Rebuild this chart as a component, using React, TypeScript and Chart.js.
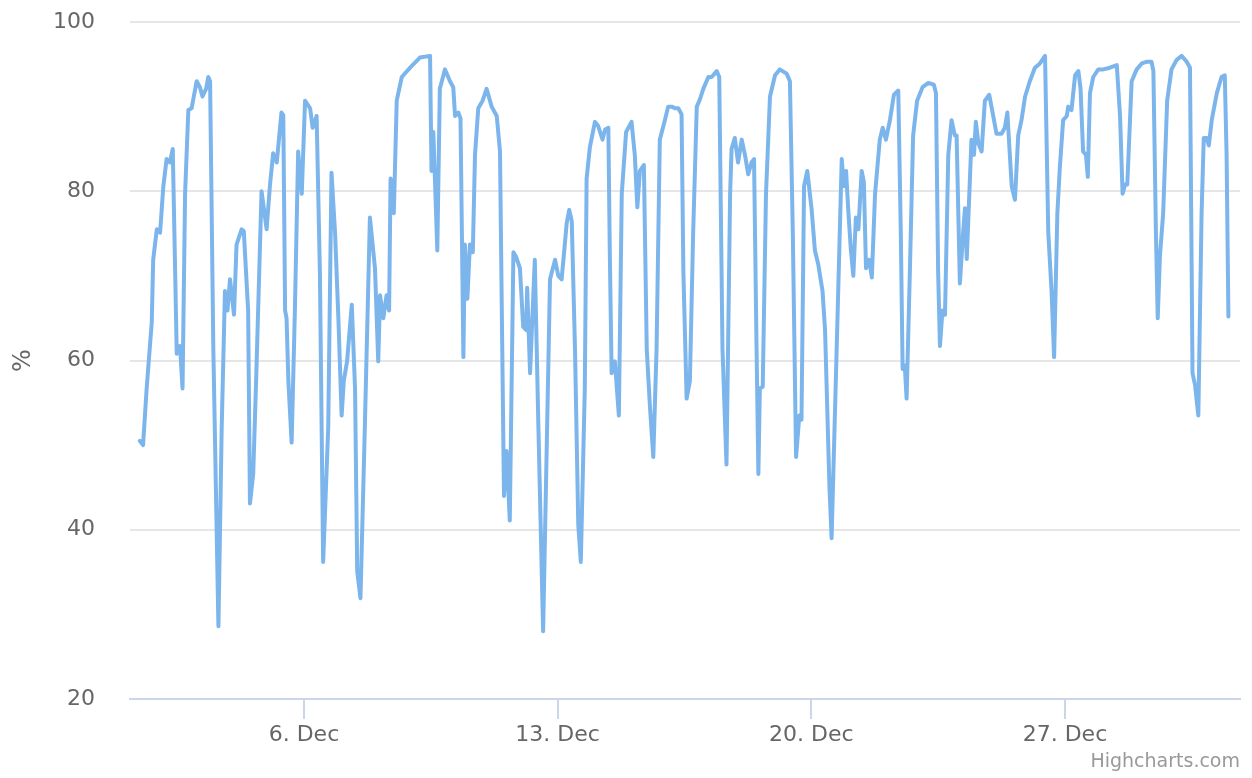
import React, { useEffect, useRef } from "react";
import { Chart, registerables } from "chart.js";

Chart.register(...registerables);

// Time in days of December (fractional), humidity in %
const times = [
  1.47, 1.56, 1.66, 1.80, 1.84, 1.94, 2.03, 2.12, 2.21, 2.30, 2.38, 2.49, 2.58, 2.65, 2.72, 2.81, 2.90, 3.04, 3.13, 3.20,
  3.30, 3.36, 3.41, 3.50, 3.64, 3.73, 3.82, 3.89, 3.96, 4.07, 4.14, 4.28, 4.34, 4.46, 4.51, 4.60, 4.68, 4.83, 4.97, 5.06,
  5.15, 5.25, 5.38, 5.43, 5.48, 5.52, 5.57, 5.66, 5.75, 5.84, 5.94, 6.03, 6.17, 6.24, 6.35, 6.44, 6.53, 6.67, 6.76, 6.86,
  6.95, 7.04, 7.10, 7.19, 7.32, 7.41, 7.47, 7.56, 7.68, 7.82, 7.96, 8.05, 8.10, 8.19, 8.28, 8.35, 8.39, 8.48, 8.56, 8.70,
  8.93, 9.20, 9.48, 9.52, 9.57, 9.61, 9.68, 9.75, 9.89, 10.03, 10.12, 10.17, 10.26, 10.32, 10.40, 10.44, 10.51, 10.58, 10.66, 10.72,
  10.81, 10.93, 11.04, 11.18, 11.32, 11.41, 11.46, 11.52, 11.59, 11.68, 11.78, 11.85, 11.96, 12.05, 12.13, 12.16, 12.24, 12.37, 12.47, 12.60,
  12.79, 12.93, 13.02, 13.11, 13.16, 13.25, 13.32, 13.39, 13.48, 13.57, 13.64, 13.75, 13.80, 13.89, 14.03, 14.12, 14.24, 14.31, 14.40, 14.44,
  14.49, 14.58, 14.69, 14.77, 14.89, 15.04, 15.13, 15.20, 15.27, 15.38, 15.46, 15.55, 15.64, 15.73, 15.82, 15.96, 16.05, 16.15, 16.24, 16.33,
  16.42, 16.47, 16.56, 16.65, 16.74, 16.84, 16.93, 17.02, 17.16, 17.25, 17.39, 17.46, 17.55, 17.66, 17.76, 17.80, 17.89, 17.98, 18.08, 18.17,
  18.26, 18.35, 18.42, 18.49, 18.54, 18.58, 18.66, 18.75, 18.86, 19.00, 19.13, 19.32, 19.41, 19.49, 19.58, 19.67, 19.73, 19.80, 19.89, 20.01,
  20.10, 20.19, 20.31, 20.38, 20.50, 20.56, 20.70, 20.84, 20.90, 20.96, 21.02, 21.09, 21.16, 21.23, 21.30, 21.39, 21.45, 21.51, 21.60, 21.67,
  21.76, 21.89, 21.97, 22.06, 22.17, 22.28, 22.40, 22.47, 22.52, 22.58, 22.63, 22.72, 22.81, 22.92, 23.07, 23.23, 23.38, 23.44, 23.50, 23.55,
  23.62, 23.69, 23.78, 23.87, 23.96, 24.01, 24.10, 24.19, 24.24, 24.29, 24.42, 24.49, 24.54, 24.61, 24.70, 24.79, 24.91, 25.02, 25.11, 25.25,
  25.34, 25.41, 25.53, 25.62, 25.71, 25.80, 25.90, 26.03, 26.17, 26.31, 26.45, 26.54, 26.63, 26.70, 26.79, 26.86, 26.95, 27.05, 27.09, 27.18,
  27.28, 27.37, 27.43, 27.50, 27.58, 27.63, 27.69, 27.78, 27.92, 28.06, 28.24, 28.43, 28.52, 28.59, 28.66, 28.72, 28.84, 28.98, 29.12, 29.25,
  29.39, 29.44, 29.51, 29.56, 29.62, 29.71, 29.82, 29.94, 30.08, 30.22, 30.36, 30.45, 30.52, 30.59, 30.68, 30.77, 30.83, 30.91, 30.97, 31.05,
  31.19, 31.32, 31.41, 31.46, 31.51,
];

const humidity = [
  50.5, 50, 56.7, 64.5, 71.9, 75.5, 75.1, 80.6, 83.8, 83.4, 85, 60.8, 61.7, 56.7, 79.7, 89.6, 89.8, 93, 92.3, 91.2,
  92.1, 93.5, 93, 61.3, 28.6, 52, 68.2, 65.9, 69.6, 65.4, 73.7, 75.5, 75.3, 65.9, 43.1, 46.6, 57.6, 80, 75.5, 80.6,
  84.5, 83.4, 89.3, 89, 65.9, 65, 57.6, 50.3, 65.9, 84.7, 79.7, 90.7, 89.8, 87.5, 88.9, 70.5, 36.2, 52.1, 82.2, 75,
  65, 53.5, 57.6, 59.9, 66.6, 56.7, 35.1, 31.9, 52.1, 76.9, 70.9, 59.9, 67.7, 65, 67.7, 65.9, 81.5, 77.4, 90.7, 93.5,
  94.6, 95.8, 96, 82.4, 87, 82, 73, 92.1, 94.4, 93, 92.3, 88.9, 89.3, 88.6, 60.4, 73.7, 67.3, 73.7, 72.8, 84.3,
  89.8, 90.7, 92.1, 90, 88.9, 84.7, 65.9, 44, 49.3, 41.1, 72.8, 72.3, 70.9, 64, 63.6, 68.6, 58.5, 71.9, 52.1, 28,
  69.6, 71.9, 70, 69.6, 71.9, 76.2, 77.8, 76.5, 61.3, 40.6, 36.2, 56.7, 81.5, 85.2, 88.2, 87.7, 86.1, 87.3, 87.5, 72.8,
  58.5, 59.9, 53.5, 79.7, 87, 88.2, 84.3, 78.1, 82.4, 83.1, 61.3, 54.4, 48.6, 61.3, 86.1, 88.4, 90, 90, 89.8, 89.8,
  89.1, 70.5, 55.5, 57.6, 75.1, 90, 90.9, 92.1, 93.5, 93.5, 94.2, 93.5, 61.3, 47.7, 79.7, 85, 86.3, 83.4, 86.1, 84.3,
  82, 83.4, 83.8, 61.3, 46.6, 56.7, 56.9, 79.7, 91.2, 93.7, 94.4, 93.9, 93, 75.1, 48.6, 53.5, 53, 80.6, 82.4, 77.8,
  73, 71.4, 68.2, 63.6, 45.2, 39, 61.3, 83.8, 80.6, 82.4, 77.8, 73.2, 70, 76.9, 75.5, 82.4, 81.1, 70.9, 71.9, 69.8,
  79.7, 86.1, 87.5, 86.1, 88.4, 91.4, 91.9, 75.1, 59, 59.4, 55.5, 70.5, 86.6, 90.7, 92.3, 92.8, 92.6, 91.6, 70.5, 61.7,
  65.9, 65.4, 84.3, 88.4, 86.6, 86.6, 69.1, 75.1, 78, 72, 86.1, 84.3, 88.2, 85.7, 84.7, 90.7, 91.4, 88.9, 86.8, 86.8,
  87.5, 89.3, 80.6, 79, 86.6, 88.4, 91.2, 93, 94.6, 95.1, 96, 75.1, 68.2, 60.4, 77.4, 82.9, 88.4, 88.9, 90, 89.6,
  93.7, 94.2, 92.1, 84.7, 84.3, 81.7, 91.6, 93.5, 94.4, 94.4, 94.6, 94.9, 88.9, 79.7, 80.8, 80.8, 93, 94.4, 95.1, 95.3,
  95.3, 94.2, 75.1, 65, 72.3, 77.4, 90.7, 94.4, 95.5, 96, 95.3, 94.6, 58.5, 57.1, 53.5, 77.4, 86.3, 86.3, 85.4, 88.4,
  91.6, 93.5, 93.7, 84.3, 65.2,
];

const tickDays = [6, 13, 20, 27];
const tickLabels = ["6. Dec", "13. Dec", "20. Dec", "27. Dec"];
const yTicks = [20, 40, 60, 80, 100];
const xRange = [1.2, 31.83];
const yRange = [20, 100];
const yTitle = "%";
const creditText = "Highcharts.com";

const FONT = "'DejaVu Sans', sans-serif";

export default function App() {
  const ref = useRef<HTMLCanvasElement>(null);

  useEffect(() => {
    if (!ref.current) return;
    const credits = {
      id: "credits",
      afterDraw(chart: any) {
        const ctx = chart.ctx;
        ctx.save();
        ctx.font = `19px ${FONT}`;
        ctx.fillStyle = "#999999";
        ctx.textAlign = "right";
        ctx.textBaseline = "alphabetic";
        ctx.fillText(creditText, 1240, 767);
        ctx.restore();
      },
    };

    const chart = new Chart(ref.current, {
      type: "line",
      data: {
        datasets: [
          {
            data: times.map((t, i) => ({ x: t, y: humidity[i] })),
            borderColor: "#7cb5ec",
            borderWidth: 4,
            pointRadius: 0,
            pointHoverRadius: 0,
            tension: 0,
            fill: false,
            borderJoinStyle: "round",
            borderCapStyle: "round",
          },
        ],
      },
      options: {
        animation: false,
        responsive: false,
        events: [],
        layout: { padding: { top: 22, right: 12, left: 0, bottom: 0 } },
        plugins: { legend: { display: false }, tooltip: { enabled: false } },
        scales: {
          x: {
            type: "linear",
            min: xRange[0],
            max: xRange[1],
            afterBuildTicks: (s: any) => {
              s.ticks = tickDays.map((v) => ({ value: v }));
            },
            afterFit: (s: any) => {
              s.height = 79;
            },
            ticks: {
              callback: (_v: any, i: number) => tickLabels[i],
              font: { family: FONT, size: 22 },
              color: "#666666",
              padding: 3,
              maxRotation: 0,
              autoSkip: false,
            },
            grid: {
              drawOnChartArea: false,
              drawTicks: true,
              tickLength: 20,
              color: "#ccd6eb",
              lineWidth: 2,
            },
            border: { display: true, color: "#ccd6eb", width: 2 },
          },
          y: {
            min: yRange[0],
            max: yRange[1],
            afterBuildTicks: (s: any) => {
              s.ticks = yTicks.map((v) => ({ value: v }));
            },
            afterFit: (s: any) => {
              s.width = 130;
              s.paddingTop = 0;
              s.paddingBottom = 0;
            },
            ticks: {
              font: { family: FONT, size: 22 },
              color: "#666666",
              padding: 0,
            },
            grid: {
              color: (c: any) => (c.tick && c.tick.value === yRange[0] ? "rgba(0,0,0,0)" : "#e6e6e6"),
              tickColor: "rgba(0,0,0,0)",
              lineWidth: 2,
              drawTicks: true,
              tickLength: 35,
            },
            border: { display: false },
            title: {
              display: true,
              text: yTitle,
              font: { family: FONT, size: 24 },
              color: "#666666",
              padding: { top: 9, bottom: 0 },
            },
          },
        },
      },
      plugins: [credits],
    } as any);

    return () => chart.destroy();
  }, []);

  return (
    <div style={{ position: "fixed", left: 0, top: 0, width: 1252, height: 778, background: "#ffffff" }}>
      <canvas ref={ref} width={1252} height={778} style={{ display: "block" }} />
    </div>
  );
}
